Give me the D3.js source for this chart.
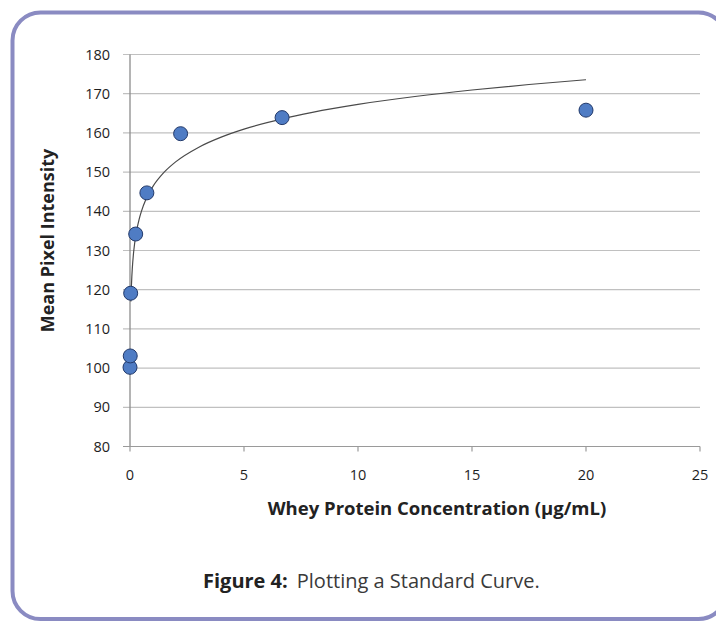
<!DOCTYPE html>
<html>
<head>
<meta charset="utf-8">
<script src="https://cdn.jsdelivr.net/npm/d3@7"></script>
<style>
  html, body { margin: 0; padding: 0; background: #fff; }
  svg { display: block; }
</style>
</head>
<body>
<svg id="chart" width="716" height="621"></svg>
<script>
// ---- data ----
const concentration = [0, 0.01, 0.03, 0.25, 0.74, 2.22, 6.67, 20];
const intensity     = [100.2, 103.1, 119.1, 134.2, 144.7, 159.8, 163.9, 165.8];
const xTicks = [0, 5, 10, 15, 20, 25];
const yTicks = [80, 90, 100, 110, 120, 130, 140, 150, 160, 170, 180];
// logarithmic trendline y = a*ln(x) + b, coefficients estimated from the drawn curve
const trendA = 9.1;
const trendB = 146.3;
const trendRange = [0.04, 20];
const trendSamples = [0.04, 0.06, 0.08, 0.1, 0.15, 0.2, 0.3, 0.4, 0.5, 0.7, 1, 1.5, 2, 3, 4, 5, 6.67, 8, 10, 12.5, 15, 17.5, 20];

const xLabel = "Whey Protein Concentration (µg/mL)";
const yLabel = "Mean Pixel Intensity";
const captionBold = "Figure 4:";
const captionText = "Plotting a Standard Curve.";

// ---- layout ----
const svg = d3.select("#chart");
const FONT = "'Open Sans', 'DejaVu Sans', sans-serif";

// frame
svg.append("rect")
  .attr("x", 12.5).attr("y", 12.5)
  .attr("width", 714).attr("height", 606.5)
  .attr("rx", 28).attr("ry", 28)
  .attr("fill", "none")
  .attr("stroke", "#8a8bc2")
  .attr("stroke-width", 4);

const x = d3.scaleLinear().domain([0, 25]).range([130, 700]);
const y = d3.scaleLinear().domain([80, 180]).range([446.5, 54.5]);

// horizontal gridlines (with stub to the left of axis)
svg.append("g")
  .selectAll("line")
  .data(yTicks.filter(d => d !== 80))
  .join("line")
  .attr("x1", 123).attr("x2", 700)
  .attr("y1", d => y(d)).attr("y2", d => y(d))
  .attr("stroke", "#c0c0c0")
  .attr("stroke-width", 1.2);

// y axis line
svg.append("line")
  .attr("x1", x(0)).attr("x2", x(0))
  .attr("y1", y(180)).attr("y2", y(80))
  .attr("stroke", "#8c8c8c").attr("stroke-width", 1.3);

// x axis line
svg.append("line")
  .attr("x1", 123).attr("x2", 700)
  .attr("y1", y(80)).attr("y2", y(80))
  .attr("stroke", "#9a9a9a").attr("stroke-width", 1.2);

// x axis ticks (below)
svg.append("g")
  .selectAll("line")
  .data(xTicks)
  .join("line")
  .attr("x1", d => x(d)).attr("x2", d => x(d))
  .attr("y1", y(80)).attr("y2", y(80) + 5)
  .attr("stroke", "#9a9a9a").attr("stroke-width", 1.2);

// y tick labels
svg.append("g")
  .selectAll("text")
  .data(yTicks)
  .join("text")
  .attr("x", 110)
  .attr("y", d => y(d) + 5)
  .attr("text-anchor", "end")
  .attr("font-family", FONT)
  .attr("font-size", 14.5)
  .attr("fill", "#1e1e1e")
  .text(d => d);

// x tick labels
svg.append("g")
  .selectAll("text")
  .data(xTicks)
  .join("text")
  .attr("x", d => x(d))
  .attr("y", 480)
  .attr("text-anchor", "middle")
  .attr("font-family", FONT)
  .attr("font-size", 14.5)
  .attr("fill", "#1e1e1e")
  .text(d => d);

// trendline
const line = d3.line()
  .x(d => x(d))
  .y(d => y(trendA * Math.log(d) + trendB))
  .curve(d3.curveMonotoneX);
svg.append("path")
  .datum(trendSamples.filter(d => d >= trendRange[0] && d <= trendRange[1]))
  .attr("d", line)
  .attr("fill", "none")
  .attr("stroke", "#4a4a4a")
  .attr("stroke-width", 1.2);

// points
const pts = concentration.map((c, i) => ({ c, v: intensity[i] }));
svg.append("g")
  .selectAll("circle")
  .data(pts)
  .join("circle")
  .attr("cx", d => x(d.c))
  .attr("cy", d => y(d.v))
  .attr("r", 7)
  .attr("fill", "#4f7cc4")
  .attr("stroke", "#22396a")
  .attr("stroke-width", 1);

// axis titles
svg.append("text")
  .attr("x", 437).attr("y", 515)
  .attr("text-anchor", "middle")
  .attr("font-family", FONT)
  .attr("font-weight", "bold")
  .attr("font-size", 18.5)
  .attr("fill", "#222")
  .text(xLabel);

svg.append("text")
  .attr("transform", "translate(54,240.5) rotate(-90)")
  .attr("text-anchor", "middle")
  .attr("font-family", FONT)
  .attr("font-weight", "bold")
  .attr("font-size", 18)
  .attr("fill", "#222")
  .text(yLabel);

// caption
const cap = svg.append("text")
  .attr("x", 203).attr("y", 588)
  .attr("font-family", FONT)
  .attr("font-size", 20)
  .attr("fill", "#3a3a3a");
cap.append("tspan").attr("font-weight", "bold").attr("fill", "#222").text(captionBold);
cap.append("tspan").attr("dx", 9).text(captionText);
</script>
</body>
</html>
